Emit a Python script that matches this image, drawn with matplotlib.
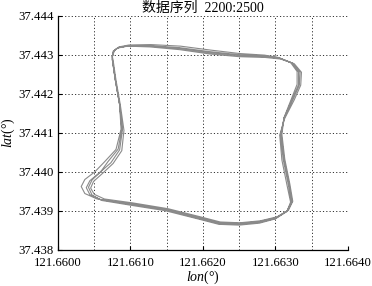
import matplotlib.pyplot as plt
from matplotlib.ticker import MultipleLocator

plt.rcParams['font.family'] = ['Liberation Serif', 'Noto Sans CJK SC']
plt.rcParams['mathtext.fontset'] = 'custom'
plt.rcParams['mathtext.rm'] = 'Liberation Serif'
plt.rcParams['mathtext.it'] = 'Liberation Serif:italic'

# track laps (samples 2200:2500)
lon_lap1 = [121.66075, 121.66077, 121.66083, 121.66097, 121.66127, 121.66168, 121.66209, 121.66250,
            121.66285, 121.66305, 121.66323, 121.66332, 121.66332, 121.66323, 121.66312, 121.66308,
            121.66312, 121.66319, 121.66323, 121.66317, 121.66301, 121.66278, 121.66250, 121.66223,
            121.66196, 121.66150, 121.66100, 121.66059, 121.66044, 121.66039, 121.66044, 121.66057,
            121.66073, 121.66085, 121.66089, 121.66085, 121.66079, 121.66075]
lat_lap1 = [37.44295, 37.44310, 37.44318, 37.44323, 37.44323, 37.44318, 37.44308, 37.44300,
            37.44297, 37.44292, 37.44279, 37.44256, 37.44223, 37.44185, 37.44138, 37.44095,
            37.44031, 37.43967, 37.43923, 37.43900, 37.43882, 37.43872, 37.43867, 37.43869,
            37.43882, 37.43903, 37.43918, 37.43928, 37.43941, 37.43959, 37.43977, 37.43997,
            37.44023, 37.44056, 37.44108, 37.44172, 37.44236, 37.44287]

lon_lap2 = [121.66075, 121.66076, 121.66082, 121.66096, 121.66127, 121.66168, 121.66209, 121.66250,
            121.66286, 121.66307, 121.66326, 121.66336, 121.66335, 121.66326, 121.66313, 121.66306,
            121.66309, 121.66316, 121.66321, 121.66316, 121.66300, 121.66278, 121.66250, 121.66222,
            121.66195, 121.66148, 121.66097, 121.66061, 121.66047, 121.66042, 121.66047, 121.66059,
            121.66069, 121.66083, 121.66088, 121.66085, 121.66079, 121.66075]
lat_lap2 = [37.44294, 37.44309, 37.44317, 37.44322, 37.44320, 37.44313, 37.44302, 37.44295,
            37.44293, 37.44289, 37.44277, 37.44255, 37.44222, 37.44184, 37.44137, 37.44094,
            37.44030, 37.43966, 37.43922, 37.43898, 37.43879, 37.43868, 37.43863, 37.43865,
            37.43878, 37.43900, 37.43915, 37.43926, 37.43940, 37.43960, 37.43979, 37.44000,
            37.44026, 37.44058, 37.44110, 37.44173, 37.44237, 37.44288]

lon_lap3 = [121.66075, 121.66078, 121.66084, 121.66098, 121.66128, 121.66169, 121.66210, 121.66251,
            121.66285, 121.66304, 121.66321, 121.66330, 121.66330, 121.66322, 121.66312, 121.66309,
            121.66313, 121.66320, 121.66324, 121.66318, 121.66302, 121.66279, 121.66251, 121.66224,
            121.66197, 121.66152, 121.66103, 121.66064, 121.66050, 121.66045, 121.66049, 121.66061,
            121.66076, 121.66088, 121.66091, 121.66086, 121.66080, 121.66076]
lat_lap3 = [37.44296, 37.44311, 37.44320, 37.44325, 37.44326, 37.44322, 37.44312, 37.44303,
            37.44299, 37.44293, 37.44280, 37.44257, 37.44224, 37.44186, 37.44139, 37.44096,
            37.44032, 37.43968, 37.43924, 37.43901, 37.43884, 37.43874, 37.43869, 37.43871,
            37.43884, 37.43905, 37.43920, 37.43930, 37.43942, 37.43958, 37.43975, 37.43995,
            37.44021, 37.44054, 37.44106, 37.44171, 37.44235, 37.44286]

lon_lap4 = [121.66075, 121.66077, 121.66083, 121.66097, 121.66127, 121.66168, 121.66209, 121.66250,
            121.66285, 121.66306, 121.66324, 121.66334, 121.66333, 121.66324, 121.66312, 121.66307,
            121.66311, 121.66318, 121.66322, 121.66316, 121.66300, 121.66277, 121.66249, 121.66222,
            121.66195, 121.66149, 121.66095, 121.66054, 121.66037, 121.66032, 121.66037, 121.66051,
            121.66064, 121.66080, 121.66087, 121.66085, 121.66079, 121.66075]
lat_lap4 = [37.44295, 37.44310, 37.44318, 37.44323, 37.44322, 37.44316, 37.44305, 37.44298,
            37.44295, 37.44291, 37.44278, 37.44255, 37.44222, 37.44184, 37.44137, 37.44094,
            37.44030, 37.43966, 37.43922, 37.43899, 37.43880, 37.43870, 37.43865, 37.43867,
            37.43880, 37.43902, 37.43918, 37.43930, 37.43944, 37.43962, 37.43980, 37.44000,
            37.44025, 37.44057, 37.44109, 37.44172, 37.44236, 37.44287]

lon = lon_lap1 + lon_lap2 + lon_lap3 + lon_lap4 + lon_lap1[:1]
lat = lat_lap1 + lat_lap2 + lat_lap3 + lat_lap4 + lat_lap1[:1]

fig = plt.figure(figsize=(3.72, 2.86), dpi=100)
ax = fig.add_axes([0.156, 0.127, 0.779, 0.818])

ax.plot(lon, lat, color='#8a8a8a', linewidth=0.8, solid_joinstyle='round')

ax.set_xlim(121.660, 121.664)
ax.set_ylim(37.438, 37.444)
ax.xaxis.set_major_locator(MultipleLocator(0.001))
ax.xaxis.set_minor_locator(MultipleLocator(0.0005))
ax.yaxis.set_major_locator(MultipleLocator(0.001))
ax.xaxis.set_major_formatter(plt.FuncFormatter(lambda v, p: '%.4f' % v))
ax.yaxis.set_major_formatter(plt.FuncFormatter(lambda v, p: '%.3f' % v))

ax.grid(True, which='both', color='#333333', linestyle=(0, (1.2, 2.2)), linewidth=0.7)
ax.set_axisbelow(True)
ax.tick_params(which='major', direction='in', length=3, width=0.8, labelsize=9.2)
ax.tick_params(which='minor', length=0)
ax.tick_params(axis='x', pad=5)
ax.tick_params(axis='y', pad=3)
for s in ['top', 'right']:
    ax.spines[s].set_visible(False)
for s in ['left', 'bottom']:
    ax.spines[s].set_linewidth(0.9)

ax.set_title('数据序列  2200:2500', fontsize=10, pad=3)
ax.set_xlabel(r'$lon$(°)', fontsize=10, labelpad=0)
ax.set_ylabel(r'$lat$(°)', fontsize=10, labelpad=1)

fig.savefig('out.png', dpi=100)
